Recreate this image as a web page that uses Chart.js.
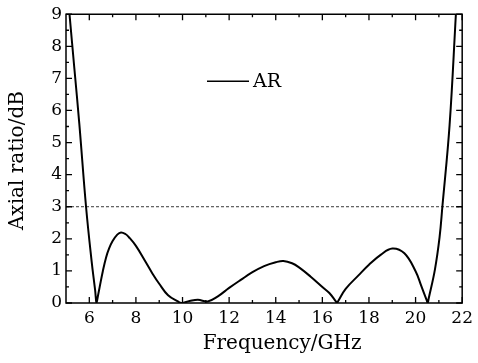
<!DOCTYPE html>
<html>
<head>
<meta charset="utf-8">
<script src="https://cdn.jsdelivr.net/npm/chart.js@4.4.1/dist/chart.umd.min.js"></script>
<style>
  html, body { margin: 0; padding: 0; background: #fff; }
  canvas { display: block; }
</style>
</head>
<body>
<canvas id="c" width="478" height="363"></canvas>
<script>
// ---- data ----
const freq = [5.15, 5.36, 5.57, 5.86, 6.1, 6.25, 6.31, 6.37, 6.44, 6.58, 6.72, 6.85, 7.0, 7.2, 7.36, 7.55, 7.7, 8.0, 8.4, 8.7, 9.0, 9.38, 9.8, 9.95, 10.3, 10.66, 11.08, 11.5, 12.0, 12.5, 13.0, 13.5, 14.0, 14.33, 14.7, 15.0, 15.5, 16.0, 16.3, 16.58, 16.63, 16.68, 17.0, 17.55, 18.0, 18.5, 19.0, 19.52, 20.0, 20.24, 20.48, 20.52, 20.56, 20.83, 21.03, 21.15, 21.46, 21.73];
const axialRatio = [9.0, 7.3, 5.6, 3.0, 1.3, 0.4, 0.0, 0.22, 0.48, 0.99, 1.42, 1.7, 1.93, 2.13, 2.2, 2.15, 2.05, 1.78, 1.3, 0.93, 0.6, 0.24, 0.05, 0.0, 0.06, 0.1, 0.05, 0.2, 0.47, 0.72, 0.96, 1.15, 1.27, 1.31, 1.24, 1.11, 0.82, 0.5, 0.31, 0.05, 0.0, 0.06, 0.44, 0.86, 1.19, 1.5, 1.7, 1.55, 0.99, 0.54, 0.08, 0.0, 0.13, 1.04, 2.05, 3.0, 5.55, 9.0];
const thresholdFreq = [5, 22];
const thresholdAR = [3, 3];
const xTickValues = [6, 8, 10, 12, 14, 16, 18, 20, 22];
const xMinorTicks = [7, 9, 11, 13, 15, 17, 19, 21];
const yTickValues = [0, 1, 2, 3, 4, 5, 6, 7, 8, 9];
const yMinorTicks = [0.5, 1.5, 2.5, 3.5, 4.5, 5.5, 6.5, 7.5, 8.5];
const seriesLabel = 'AR';
const xTitle = 'Frequency/GHz';
const yTitle = 'Axial ratio/dB';

const FONT = '"DejaVu Serif", "Liberation Serif", serif';

const framePlugin = {
  id: 'frameTicks',
  afterDraw(chart) {
    const ctx = chart.ctx;
    const a = chart.chartArea;
    const xs = chart.scales.x, ys = chart.scales.y;
    ctx.save();
    ctx.strokeStyle = '#000';
    ctx.lineWidth = 1.5;
    ctx.beginPath();
    ctx.rect(a.left, a.top, a.right - a.left, a.bottom - a.top);
    ctx.stroke();
    ctx.lineWidth = 1.3;
    const drawX = (vals, len) => {
      vals.forEach(v => {
        const p = xs.getPixelForValue(v);
        ctx.beginPath();
        ctx.moveTo(p, a.bottom); ctx.lineTo(p, a.bottom - len);
        ctx.moveTo(p, a.top); ctx.lineTo(p, a.top + len);
        ctx.stroke();
      });
    };
    const drawY = (vals, len) => {
      vals.forEach(v => {
        const p = ys.getPixelForValue(v);
        ctx.beginPath();
        ctx.moveTo(a.left, p); ctx.lineTo(a.left + len, p);
        ctx.moveTo(a.right, p); ctx.lineTo(a.right - len, p);
        ctx.stroke();
      });
    };
    drawX(xTickValues, 6); drawX(xMinorTicks, 3);
    drawY(yTickValues, 6); drawY(yMinorTicks, 3);

    // legend (inside plot)
    const lx = a.left + 141, ly = a.top + 67;
    ctx.lineWidth = 1.6;
    ctx.beginPath();
    ctx.moveTo(lx, ly); ctx.lineTo(lx + 42, ly);
    ctx.stroke();
    ctx.fillStyle = '#000';
    ctx.font = '19px ' + FONT;
    ctx.textAlign = 'left';
    ctx.textBaseline = 'middle';
    ctx.fillText(seriesLabel, lx + 46, ly + 1);

    // axis titles
    ctx.font = '20px ' + FONT;
    ctx.textAlign = 'center';
    ctx.textBaseline = 'middle';
    ctx.fillText(xTitle, (a.left + a.right) / 2 + 18, a.bottom + 41);
    ctx.save();
    ctx.translate(18, (a.top + a.bottom) / 2 + 2);
    ctx.rotate(-Math.PI / 2);
    ctx.fillText(yTitle, 0, 0);
    ctx.restore();
    ctx.restore();
  }
};

new Chart(document.getElementById('c'), {
  type: 'line',
  data: {
    datasets: [
      {
        label: seriesLabel,
        data: freq.map((f, i) => ({ x: f, y: axialRatio[i] })),
        borderColor: '#000',
        borderWidth: 2,
        pointRadius: 0,
        tension: 0.4,
        fill: false
      },
      {
        label: '3 dB',
        data: thresholdFreq.map((f, i) => ({ x: f, y: thresholdAR[i] })),
        borderColor: '#222',
        borderWidth: 0.9,
        borderDash: [3, 2],
        pointRadius: 0,
        fill: false
      }
    ]
  },
  options: {
    responsive: false,
    animation: false,
    devicePixelRatio: 1,
    layout: { padding: { top: 6, right: 10, left: 0, bottom: 0 } },
    plugins: { legend: { display: false }, tooltip: { enabled: false } },
    scales: {
      x: {
        type: 'linear', min: 5, max: 22,
        afterBuildTicks: s => { s.ticks = xTickValues.map(v => ({ value: v })); },
        afterFit: s => { s.height = 60; },
        grid: { display: false, drawTicks: false },
        border: { display: false },
        ticks: { color: '#000', font: { family: FONT, size: 17 }, padding: 5, maxRotation: 0, autoSkip: false }
      },
      y: {
        type: 'linear', min: 0, max: 9,
        afterBuildTicks: s => { s.ticks = yTickValues.map(v => ({ value: v })); },
        afterFit: s => { s.width = 66; },
        grid: { display: false, drawTicks: false },
        border: { display: false },
        ticks: { color: '#000', font: { family: FONT, size: 17 }, padding: 4, autoSkip: false }
      }
    }
  },
  plugins: [framePlugin]
});
</script>
</body>
</html>
